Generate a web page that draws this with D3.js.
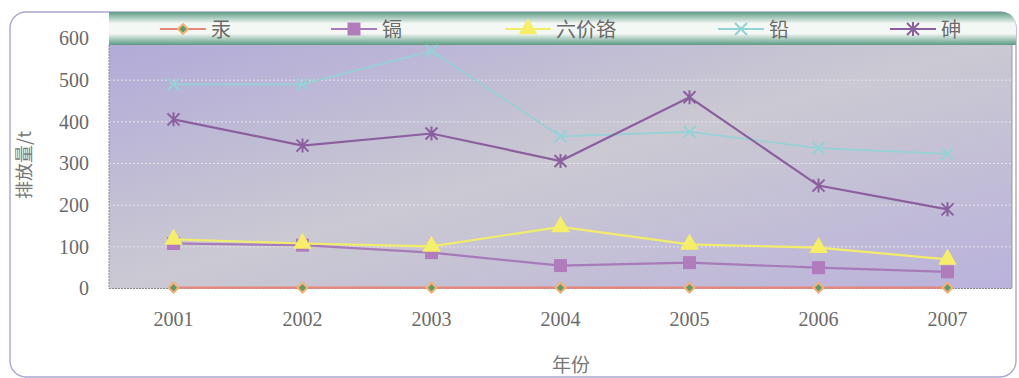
<!DOCTYPE html>
<html><head><meta charset="utf-8">
<script src="https://cdn.jsdelivr.net/npm/d3@7"></script>
<style>body{margin:0;background:#fff}</style>
</head><body>
<svg id="c" width="1019" height="378"></svg>
<script>
const years = ["2001","2002","2003","2004","2005","2006","2007"];
const seriesNames = ["汞","镉","六价铬","铅","砷"];
const mercury  = [2, 2, 2, 2, 2, 2, 2];
const cadmium  = [108, 104, 86, 55, 62, 50, 40];
const chromium = [118, 108, 101, 148, 106, 98, 70];
const lead     = [490, 490, 570, 365, 376, 337, 323];
const arsenic  = [406, 343, 372, 306, 459, 247, 190];
const yTicks = [0,100,200,300,400,500,600];

const series = [
  {name:seriesNames[0], values:mercury,  line:"#e8867a", marker:"diamond", fill:"#5f9a6c", stroke:"#f3b070"},
  {name:seriesNames[1], values:cadmium,  line:"#a67bb8", marker:"square",  fill:"#b07cbc", stroke:"#b07cbc"},
  {name:seriesNames[2], values:chromium, line:"#f2ec6a", marker:"triangle",fill:"#f5ee66", stroke:"#f5ee66"},
  {name:seriesNames[3], values:lead,     line:"#93d3d6", marker:"x",       fill:"none",    stroke:"#93d3d6"},
  {name:seriesNames[4], values:arsenic,  line:"#8b5f9e", marker:"star",    fill:"none",    stroke:"#8b5f9e"}
];

const svg = d3.select("#c");
const L=109, R=1012, T=38.5, B=288.5;
const x = d3.scaleBand().domain(years).range([L,R]);
const y = d3.scaleLinear().domain([0,600]).range([B,T]);

const defs = svg.append("defs");
const bg = defs.append("linearGradient").attr("id","bg").attr("x1",0).attr("y1",0).attr("x2",1).attr("y2",1);
bg.append("stop").attr("offset","0%").attr("stop-color","#b1aad9");
bg.append("stop").attr("offset","50%").attr("stop-color","#cbc9d2");
bg.append("stop").attr("offset","100%").attr("stop-color","#bab2dc");
const gb = defs.append("linearGradient").attr("id","gb").attr("x1",0).attr("y1",0).attr("x2",0).attr("y2",1);
gb.append("stop").attr("offset","0%").attr("stop-color","#5f9c86");
gb.append("stop").attr("offset","35%").attr("stop-color","#f4f8f4");
gb.append("stop").attr("offset","65%").attr("stop-color","#f4f8f4");
gb.append("stop").attr("offset","100%").attr("stop-color","#5a9a82");

// outer frame
svg.append("rect").attr("x",10).attr("y",12).attr("width",1006).attr("height",365)
  .attr("rx",16).attr("fill","none").attr("stroke","#aaa6d0").attr("stroke-width",1.4);

// plot background
svg.append("rect").attr("x",L).attr("y",T).attr("width",R-L).attr("height",B-T).attr("fill","url(#bg)");

// legend band
svg.append("path").attr("d",`M${L},12 H1000 Q1016,12 1016,28 V45 H${L} Z`).attr("fill","url(#gb)");

// grid
svg.append("g").selectAll("line").data(yTicks.filter(d=>d>0&&d<600)).join("line")
  .attr("x1",L).attr("x2",R).attr("y1",d=>y(d)).attr("y2",d=>y(d))
  .attr("stroke","#e6e4ec").attr("stroke-dasharray","2,2").attr("stroke-width",1);

// axes borders
svg.append("line").attr("x1",L).attr("x2",L).attr("y1",45).attr("y2",B).attr("stroke","#8a8a8a").attr("stroke-dasharray","2,1");
svg.append("line").attr("x1",L).attr("x2",R).attr("y1",B).attr("y2",B).attr("stroke","#8a8a8a").attr("stroke-dasharray","2,1");
svg.append("line").attr("x1",R).attr("x2",R).attr("y1",45).attr("y2",B).attr("stroke","#9a9a9a");

// y axis labels
const yAxis = d3.axisLeft(y).tickValues(yTicks).tickSize(0).tickPadding(20);
const ya = svg.append("g").attr("transform",`translate(${L},0)`).call(yAxis);
ya.select(".domain").remove();
ya.selectAll("text").attr("font-family","Liberation Serif, serif").attr("font-size",20).attr("fill","#6a6a6a");

// x axis labels
const xAxis = d3.axisBottom(x).tickSize(0).tickPadding(23);
const xa = svg.append("g").attr("transform",`translate(0,${B})`).call(xAxis);
xa.select(".domain").remove();
xa.selectAll("text").attr("font-family","Liberation Serif, serif").attr("font-size",20).attr("fill","#6a6a6a");

// titles
svg.append("text").attr("transform","translate(31,165) rotate(-90)").attr("text-anchor","middle")
  .attr("font-family","Noto Sans CJK SC").attr("font-size",18).attr("fill","#777").text("排放量/t");
svg.append("text").attr("x",571).attr("y",372).attr("text-anchor","middle")
  .attr("font-family","Noto Sans CJK SC").attr("font-size",19).attr("fill","#777").text("年份");

function drawMarker(g, s, cx, cy){
  if(s.marker==="diamond"){
    g.append("rect").attr("x",-3.5).attr("y",-3.5).attr("width",7).attr("height",7)
      .attr("transform",`translate(${cx},${cy}) rotate(45)`)
      .attr("fill",s.fill).attr("stroke",s.stroke).attr("stroke-width",2);
  } else if(s.marker==="square"){
    g.append("rect").attr("x",cx-6.5).attr("y",cy-6.5).attr("width",13).attr("height",13).attr("fill",s.fill);
  } else if(s.marker==="triangle"){
    g.append("path").attr("d",d3.symbol(d3.symbolTriangle,150)()).attr("transform",`translate(${cx},${cy})`).attr("fill",s.fill);
  } else if(s.marker==="x"){
    g.append("path").attr("d",`M${cx-6},${cy-6}L${cx+6},${cy+6}M${cx-6},${cy+6}L${cx+6},${cy-6}`)
      .attr("stroke",s.stroke).attr("stroke-width",2);
  } else if(s.marker==="star"){
    g.append("path").attr("d",`M${cx-6},${cy-6}L${cx+6},${cy+6}M${cx-6},${cy+6}L${cx+6},${cy-6}M${cx},${cy-7}L${cx},${cy+7}`)
      .attr("stroke",s.stroke).attr("stroke-width",2);
  }
}

const line = d3.line().x((d,i)=>x(years[i])+x.bandwidth()/2).y(d=>y(d));
const order = [3,4,1,2,0];
order.forEach(idx=>{
  const s = series[idx];
  const g = svg.append("g");
  g.append("path").datum(s.values).attr("d",line).attr("fill","none").attr("stroke",s.line)
    .attr("stroke-width",idx===3?1.6:2.2);
  s.values.forEach((v,i)=>drawMarker(g,s,x(years[i])+x.bandwidth()/2,y(v)));
});

// legend
const legX = [160, 331, 505, 718, 890];
series.forEach((s,i)=>{
  const g = svg.append("g");
  const lx = legX[i], ly = 29;
  g.append("line").attr("x1",lx).attr("x2",lx+46).attr("y1",ly).attr("y2",ly).attr("stroke",s.line).attr("stroke-width",2);
  drawMarker(g,s,lx+23,ly);
  g.append("text").attr("x",lx+51).attr("y",ly+8).attr("font-family","Noto Sans CJK SC").attr("font-size",20)
    .attr("fill","#6a6a6a").text(s.name);
});
</script>
</body></html>
